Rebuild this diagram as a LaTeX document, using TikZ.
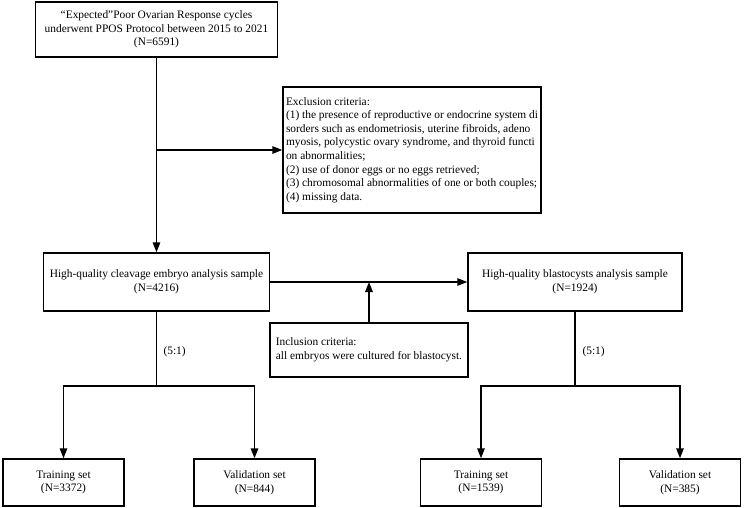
\documentclass[tikz,border=0pt]{standalone}
\usepackage{fontspec}
\setmainfont{Liberation Serif}
\usetikzlibrary{arrows.meta}
\begin{document}
\begin{tikzpicture}[x=1pt,y=-1pt,
  every node/.style={font=\fontsize{11.4}{13.6}\selectfont},
  box/.style={draw, line width=1.5pt, inner sep=0pt, align=center},
  lbox/.style={draw, line width=1.5pt, inner sep=0pt, align=left},
  conn/.style={line width=1.5pt},
  arr/.style={line width=1.5pt, -{Triangle[length=10pt,width=7.5pt]}}]
\useasboundingbox (0,0) rectangle (744,508);
\node[box, minimum width=242pt, minimum height=55pt] (top) at (156.5,29.5)
  {“Expected”Poor Ovarian Response cycles\\underwent PPOS Protocol between 2015 to 2021\\(N=6591)};
\node[lbox, minimum width=258pt, minimum height=126pt] (excl) at (412,150)
  {Exclusion criteria:\\
   (1) the presence of reproductive or endocrine system di\\
   sorders such as endometriosis, uterine fibroids, adeno\\
   myosis, polycystic ovary syndrome, and thyroid functi\\
   on abnormalities;\\
   (2) use of donor eggs or no eggs retrieved;\\
   (3) chromosomal abnormalities of one or both couples;\\
   (4) missing data.};
\node[box, minimum width=226pt, minimum height=58pt] (cleav) at (156.5,282)
  {High-quality cleavage embryo analysis sample\\(N=4216)};
\node[box, minimum width=214pt, minimum height=58pt] (blast) at (575,282)
  {High-quality blastocysts analysis sample\\(N=1924)};
\node[lbox, minimum width=198pt, minimum height=54pt] (incl) at (369,350)
  {Inclusion criteria:\\all embryos were cultured for blastocyst.};
\node[box, minimum width=121pt, minimum height=47pt] (tl) at (63.5,482.5) {Training set\\(N=3372)};
\node[box, minimum width=121pt, minimum height=47pt] (vl) at (254.5,482.5) {Validation set\\(N=844)};
\node[box, minimum width=121pt, minimum height=47pt] (tr) at (481,482.5) {Training set\\(N=1539)};
\node[box, minimum width=121pt, minimum height=47pt] (vr) at (680,482.5) {Validation set\\(N=385)};
\node[anchor=west] (ratl) at (160,352) {(5:1)};
\node[anchor=west] (ratr) at (579,352) {(5:1)};
\coordinate (bl) at (156.5,386);
\coordinate (br) at (575,386);
% connectors
\draw[arr] (top.south) -- (cleav.north);
\draw[arr] (top.south |- excl.west) -- (excl.west);
\draw[arr] (cleav.east) -- (blast.west);
\draw[arr] (incl.north) -- (incl.north |- cleav.east);
\draw[conn] (cleav.south) -- (bl);
\draw[arr] (bl) -| (tl.north);
\draw[arr] (bl) -| (vl.north);
\draw[conn] (blast.south) -- (br);
\draw[arr] (br) -| (tr.north);
\draw[arr] (br) -| (vr.north);
\end{tikzpicture}
\end{document}
